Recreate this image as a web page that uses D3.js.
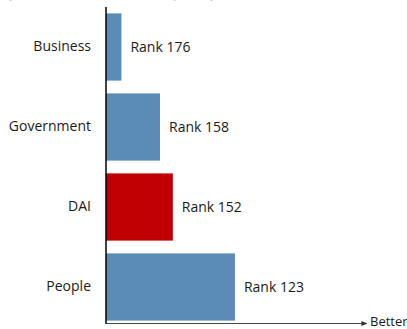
<!DOCTYPE html>
<html><head><meta charset="utf-8">
<script src="https://cdn.jsdelivr.net/npm/d3@7"></script>
<style>html,body{margin:0;padding:0;background:#fff;overflow:hidden}</style>
</head><body>
<svg id="c" width="407" height="329"></svg>
<script>
const categories = ["Business", "Government", "DAI", "People"];
const ranks = [176, 158, 152, 123];
const barColors = ["#5b8bb7", "#5b8bb7", "#c00000", "#5b8bb7"];
const labelPrefix = "Rank ";
const axisLabel = "Better";
const subtitle = "(rank out of 180 economies, 2016)";

const svg = d3.select("#c");
const font = "'Open Sans', 'Noto Sans', sans-serif";
const x0 = 106, xEnd = 362;
const x = d3.scaleLinear().domain([183.2, 63.7]).range([x0, xEnd]);
const y = d3.scaleBand().domain(categories).range([7, 327]).paddingInner(0.16).paddingOuter(0.08);

svg.append("text").attr("x", 8).attr("y", -1).attr("font-family", font).attr("font-size", 13)
  .attr("fill", "#8db3dc").text(subtitle);

svg.selectAll("rect.bar").data(categories).join("rect").attr("class", "bar")
  .attr("x", x0).attr("y", d => y(d))
  .attr("width", (d, i) => x(ranks[i]) - x0)
  .attr("height", y.bandwidth())
  .attr("fill", (d, i) => barColors[i]);

svg.selectAll("text.val").data(categories).join("text").attr("class", "val")
  .attr("x", (d, i) => x(ranks[i]) + 9)
  .attr("y", d => y(d) + y.bandwidth() / 2 + 1)
  .attr("dominant-baseline", "middle")
  .attr("font-family", font).attr("font-size", 14).attr("fill", "#1a1a1a")
  .text((d, i) => labelPrefix + ranks[i]);

svg.selectAll("text.cat").data(categories).join("text").attr("class", "cat")
  .attr("x", 91)
  .attr("y", d => y(d) + y.bandwidth() / 2 + 0.5)
  .attr("dominant-baseline", "middle").attr("text-anchor", "end")
  .attr("font-family", font).attr("font-size", 14).attr("fill", "#1a1a1a")
  .text(d => d);

// vertical axis
svg.append("line").attr("x1", x0).attr("x2", x0).attr("y1", 7).attr("y2", 323.5)
  .attr("stroke", "#000").attr("stroke-width", 1.5);
// horizontal arrow axis
svg.append("defs").append("marker").attr("id", "arr").attr("viewBox", "0 0 10 10")
  .attr("refX", 1).attr("refY", 5).attr("markerWidth", 6).attr("markerHeight", 6)
  .attr("markerUnits", "userSpaceOnUse").attr("orient", "auto")
  .append("path").attr("d", "M0,1 L10,5 L0,9 Z").attr("fill", "#333");
svg.append("line").attr("x1", x0 - 1).attr("x2", xEnd).attr("y1", 323.5).attr("y2", 323.5)
  .attr("stroke", "#444").attr("stroke-width", 1.2).attr("marker-end", "url(#arr)");
svg.append("text").attr("x", 370).attr("y", 323).attr("dominant-baseline", "middle")
  .attr("font-family", font).attr("font-size", 13).attr("fill", "#1a1a1a").text(axisLabel);
</script>
</body></html>
